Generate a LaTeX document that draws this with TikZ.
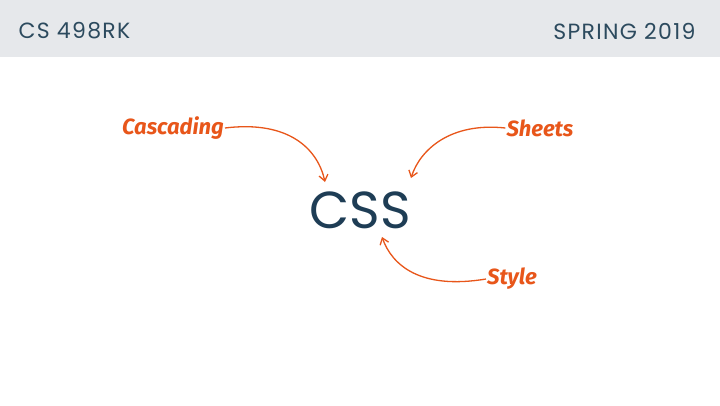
\documentclass[tikz,border=0pt]{standalone}
\usepackage{fontspec}
\setmainfont{Lato}
\newfontfamily\scr{Fira Sans}
\newfontfamily\hd{Poppins}
\newfontfamily\hdw[LetterSpace=6]{Poppins}
\usetikzlibrary{arrows.meta}
\definecolor{hdr}{HTML}{E6E8EB}
\definecolor{hdrtxt}{HTML}{2C4A5E}
\definecolor{navy}{HTML}{1E3D55}
\definecolor{org}{HTML}{E8561A}
\tikzset{lbl/.style={text=org,font=\scr\bfseries\itshape\fontsize{22}{24}\selectfont,inner sep=1pt},
arr/.style={draw=org,line width=1.3pt,-{Straight Barb[length=6pt,width=9pt]}}}
\begin{document}
\begin{tikzpicture}[x=1pt,y=-1pt]
\useasboundingbox (0,0) rectangle (720,405);
\fill[white] (0,0) rectangle (720,405);
\fill[hdr] (0,0) rectangle (720,57);
\node[anchor=west,text=hdrtxt,font=\hdw\fontsize{22}{24}\selectfont] (l) at (15,31) {CS 498RK};
\node[anchor=east,text=hdrtxt,font=\hdw\fontsize{22}{24}\selectfont] (r) at (699,31) {SPRING 2019};
\node[text=navy,font=\hd\fontsize{52}{60}\selectfont] (css) at (360,210) {CSS};
\node[lbl] (c) at (173,128) {Cascading};
\node[lbl] (s) at (540,128) {Sheets};
\node[lbl] (st) at (512,279) {Style};
\draw[arr] (c.east) .. controls (290,120) and (318,150) .. (325,182);
\draw[arr] (s.west) .. controls (450,122) and (420,150) .. (411,178);
\draw[arr] (st.west) .. controls (420,290) and (392,265) .. (382,237);
\end{tikzpicture}
\end{document}
